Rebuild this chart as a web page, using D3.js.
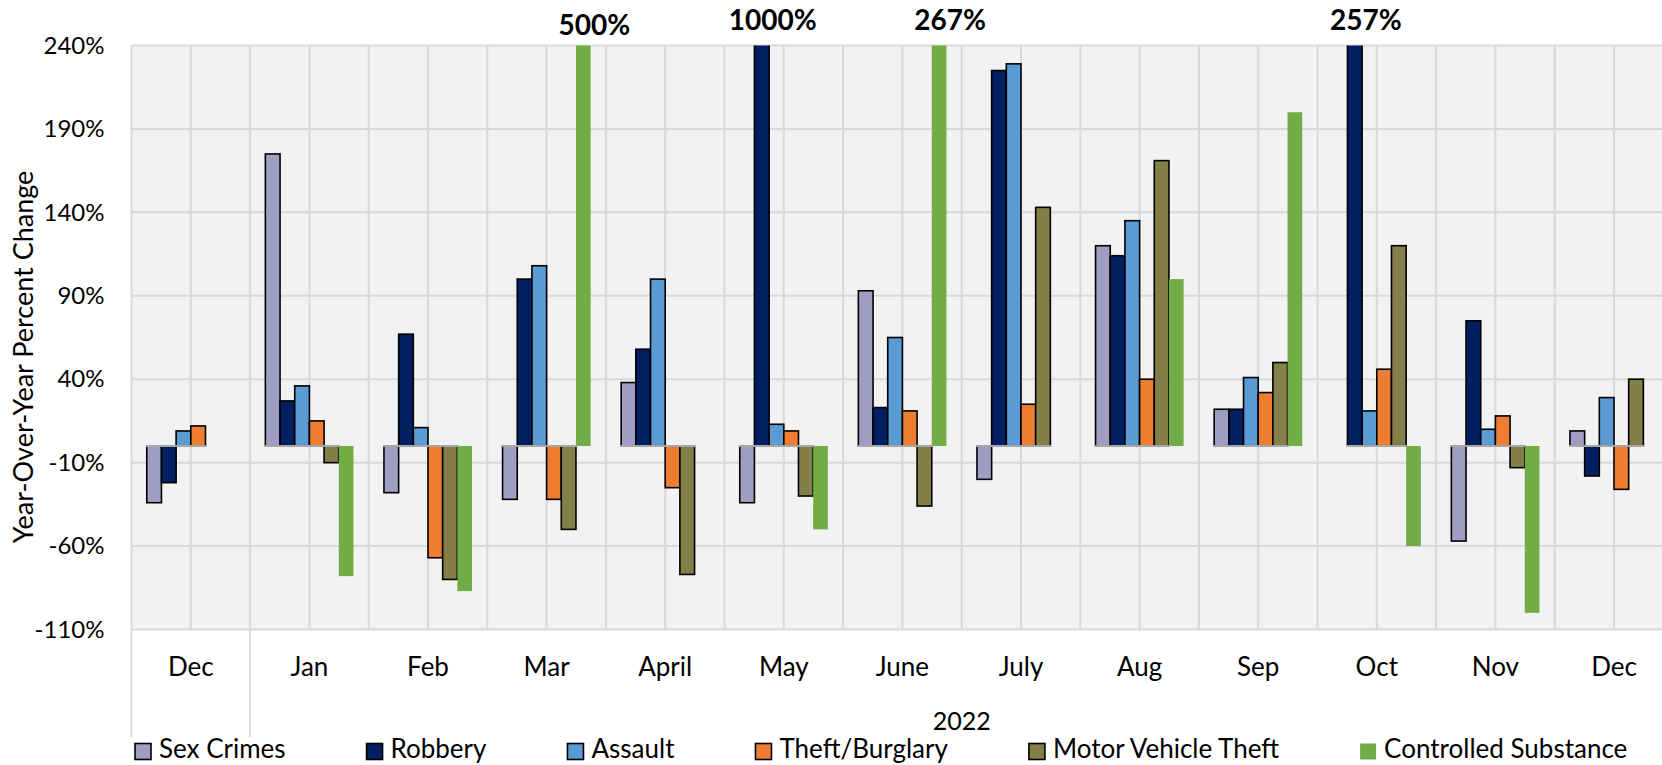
<!DOCTYPE html>
<html>
<head>
<meta charset="utf-8">
<script src="https://cdn.jsdelivr.net/npm/d3@7"></script>
<style>
  body { margin: 0; background: #fff; }
  svg { display: block; font-family: Lato, "Open Sans", sans-serif; }
</style>
</head>
<body>
<div id="chart" style="width:1662px;height:765px"></div>
<script>
// month labels, first Dec belongs to 2021 and has no year label
const months = ['Dec', 'Jan', 'Feb', 'Mar', 'April', 'May', 'June', 'July', 'Aug', 'Sep', 'Oct', 'Nov', 'Dec'];
const yearLabel = '2022';
const seriesNames = ['Sex Crimes', 'Robbery', 'Assault', 'Theft/Burglary', 'Motor Vehicle Theft', 'Controlled Substance'];
const seriesColors = ['#a09dc4', '#022061', '#5b9bd5', '#ed7d31', '#847f48', '#70ad47'];

// year-over-year % change, null = no bar
const sexCrimes = [-34, 175, -28, -32, 38, -34, 93, -20, 120, 22, null, -57, 9];
const robbery = [-22, 27, 67, 100, 58, 1000, 23, 225, 114, 22, 257, 75, -18];
const assault = [9, 36, 11, 108, 100, 13, 65, 229, 135, 41, 21, 10, 29];
const theftBurglary = [12, 15, -67, -32, -25, 9, 21, 25, 40, 32, 46, 18, -26];
const motorVehicle = [null, -10, -80, -50, -77, -30, -36, 143, 171, 50, 120, -13, 40];
const controlled = [null, -78, -87, 500, null, -50, 267, null, 100, 200, -60, -100, null];

const yTicks = [-110, -60, -10, 40, 90, 140, 190, 240];

const seriesValues = [sexCrimes, robbery, assault, theftBurglary, motorVehicle, controlled];

function barChart (el) {
    const _width = 1662;
    const _height = 765;
    const _left = 131.5, _top = 45.5, _bottom = 629.5;
    const _step = 118.6;
    const _yMin = d3.min(yTicks), _yMax = d3.max(yTicks);

    const _svg = d3.select(el).append('svg')
        .attr('width', _width)
        .attr('height', _height);

    const _x = d3.scaleBand()
        .domain(d3.range(months.length))
        .range([_left, _left + _step * months.length])
        .padding(0);
    const _xs = d3.scaleBand()
        .domain(d3.range(seriesNames.length))
        .range([0, _x.bandwidth()])
        .paddingInner(0)
        .paddingOuter(1.04);
    const _y = d3.scaleLinear()
        .domain([_yMin, _yMax])
        .range([_bottom, _top]);
    const _right = _x.range()[1];

    // plot background
    _svg.append('rect')
        .attr('x', _left).attr('y', _top)
        .attr('width', _right - _left).attr('height', _bottom - _top)
        .attr('fill', '#f2f2f2');

    const grid = _svg.append('g').attr('stroke', '#d9d9d9').attr('stroke-width', 2);
    // vertical gridlines at band edges and centres
    const vx = [];
    months.forEach((m, i) => { vx.push(_x(i)); vx.push(_x(i) + _x.bandwidth() / 2); });
    vx.push(_right);
    grid.selectAll('line.v').data(vx).enter().append('line')
        .attr('class', 'v')
        .attr('x1', d => d).attr('x2', d => d)
        .attr('y1', _top).attr('y2', _bottom);
    // horizontal gridlines
    grid.selectAll('line.h').data(yTicks).enter().append('line')
        .attr('class', 'h')
        .attr('x1', _left).attr('x2', _right)
        .attr('y1', d => _y(d)).attr('y2', d => _y(d));
    // group separators under the axis
    grid.selectAll('line.sep').data([_x(0), _x(1)]).enter().append('line')
        .attr('class', 'sep')
        .attr('x1', d => d).attr('x2', d => d)
        .attr('y1', _bottom).attr('y2', 737);

    // bars
    _svg.append('clipPath').attr('id', 'plotClip')
        .append('rect')
        .attr('x', _left).attr('y', _top)
        .attr('width', _right - _left).attr('height', _bottom - _top);
    const body = _svg.append('g').attr('clip-path', 'url(#plotClip)');

    const bars = [];
    seriesValues.forEach((vals, s) => {
        vals.forEach((v, i) => {
            if (v !== null) bars.push({ s, i, v });
        });
    });
    const clampY = v => _y(Math.max(_yMin, Math.min(_yMax + 5, v)));

    body.selectAll('rect.bar').data(bars).enter().append('rect')
        .attr('class', 'bar')
        .attr('x', d => _x(d.i) + _xs(d.s))
        .attr('width', _xs.bandwidth())
        .attr('y', d => Math.min(clampY(d.v), _y(0)))
        .attr('height', d => Math.abs(clampY(d.v) - _y(0)))
        .attr('fill', d => seriesColors[d.s])
        .attr('stroke', d => d.s === 5 ? 'none' : '#000')
        .attr('stroke-width', 1.6);

    // grey base line across each group's outlined bars
    const baseSegs = months.map((m, i) => {
        const idx = seriesValues.map((vals, s) => (s < 5 && vals[i] !== null) ? s : -1).filter(s => s >= 0);
        return { i, a: d3.min(idx), b: d3.max(idx) };
    });
    body.selectAll('line.base').data(baseSegs).enter().append('line')
        .attr('class', 'base')
        .attr('x1', d => _x(d.i) + _xs(d.a) - 1)
        .attr('x2', d => _x(d.i) + _xs(d.b) + _xs.bandwidth() + 1)
        .attr('y1', _y(0)).attr('y2', _y(0))
        .attr('stroke', '#a6a6a6').attr('stroke-width', 2);

    // values that run off the top of the axis
    const over = bars.filter(d => d.v > _yMax);
    _svg.selectAll('text.over').data(over).enter().append('text')
        .attr('class', 'over')
        .attr('x', d => _x(d.i) + _xs(d.s) + _xs.bandwidth() / 2 + 11)
        .attr('y', d => d.i === 3 ? 35 : 29.5)
        .attr('text-anchor', 'middle')
        .attr('font-size', 28)
        .attr('font-weight', 'bold')
        .text(d => d.v + '%');

    // y axis
    const yAxis = d3.axisLeft(_y)
        .tickValues(yTicks)
        .tickSize(0)
        .tickPadding(27)
        .tickFormat(d => d + '%');
    const yG = _svg.append('g')
        .attr('transform', 'translate(' + _left + ',0)')
        .call(yAxis);
    yG.select('.domain').remove();
    yG.selectAll('text')
        .attr('font-family', 'Lato')
        .attr('font-size', 24)
        .attr('fill', '#000');

    _svg.append('text')
        .attr('transform', 'translate(33,357) rotate(-90)')
        .attr('text-anchor', 'middle')
        .attr('font-size', 27)
        .text('Year-Over-Year Percent Change');

    // category labels
    _svg.selectAll('text.cat').data(months).enter().append('text')
        .attr('class', 'cat')
        .attr('x', (d, i) => _x(i) + _x.bandwidth() / 2)
        .attr('y', 676)
        .attr('text-anchor', 'middle')
        .attr('font-size', 26)
        .text(d => d);

    _svg.append('text')
        .attr('x', (_x(1) + _right) / 2)
        .attr('y', 729.5)
        .attr('text-anchor', 'middle')
        .attr('font-size', 25)
        .text(yearLabel);

    // legend
    const legend = _svg.append('g').attr('class', 'legend');
    let lx = 135;
    seriesNames.forEach((name, s) => {
        legend.append('rect')
            .attr('x', lx).attr('y', 743.5)
            .attr('width', 16).attr('height', 16)
            .attr('fill', seriesColors[s])
            .attr('stroke', s === 5 ? 'none' : '#000')
            .attr('stroke-width', 1.6);
        const t = legend.append('text')
            .attr('x', lx + 24).attr('y', 758)
            .attr('font-size', 26)
            .text(name);
        lx += 24 + t.node().getComputedTextLength() + 81;
    });
}

barChart(document.getElementById('chart'));
</script>
</body>
</html>
